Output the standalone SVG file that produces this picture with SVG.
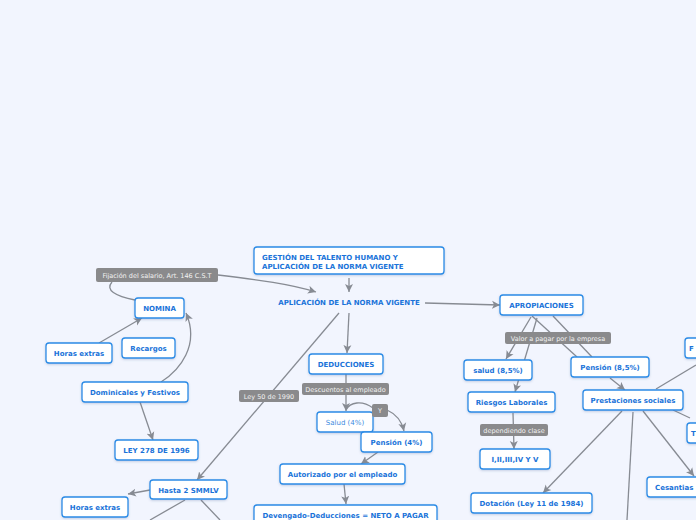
<svg xmlns="http://www.w3.org/2000/svg" width="696" height="520" viewBox="0 0 696 520">
<defs>
<marker id="ah" markerUnits="userSpaceOnUse" markerWidth="9" markerHeight="9" refX="8" refY="4.5" orient="auto">
<path d="M0,0.5 L8,4.5 L0,8.5 L2,4.5 z" fill="#878b93"/>
</marker>
<filter id="sh" x="-10%" y="-20%" width="120%" height="150%">
<feDropShadow dx="0" dy="1" stdDeviation="0.8" flood-color="#5070a0" flood-opacity="0.3"/>
</filter>
<style>
.n rect{fill:#fff;stroke:#2a8be6;stroke-width:1.3;filter:url(#sh)}
.t{font-family:"DejaVu Sans",Verdana,sans-serif;font-size:7px;font-weight:bold;fill:#1a73d9;text-anchor:middle}
.tl{font-family:"DejaVu Sans",Verdana,sans-serif;font-size:7px;font-weight:normal;fill:#3a8ae0;text-anchor:middle}
.lb rect{fill:#8a8a8c}
.lb text{font-family:"DejaVu Sans",Verdana,sans-serif;font-size:6.5px;fill:#f2f2f2;text-anchor:middle}
.c path{fill:none;stroke:#878b93;stroke-width:1.3}
.c .a{marker-end:url(#ah)}
</style>
</defs>
<rect width="696" height="520" fill="#f2f5fe"/>

<g class="c" id="connectors">
<path class="a" d="M349,278 L349,292"/>
<path class="a" d="M218,275 C260,280 290,284 316,292"/>
<path d="M112,282 C105,290 115,296 135,300"/>
<path class="a" d="M99,343 L142,318"/>
<path class="a" d="M161,382 C180,370 200,345 186,313"/>
<path class="a" d="M140,402 L153,440"/>
<path class="a" d="M339,313 L197,480"/>
<path class="a" d="M150,490 L128,494"/>
<path d="M185,500 L150,520"/>
<path d="M201,500 L220,520"/>
<path class="a" d="M349,313 L347,353"/>
<path class="a" d="M346,374 L346,411"/>
<path d="M346,410 C350,402 362,400 373,408"/>
<path class="a" d="M387,410 C396,414 402,422 404,431"/>
<path class="a" d="M378,452 L361,464"/>
<path class="a" d="M344,484 L346,504"/>
<path class="a" d="M425,303 L500,305"/>
<path class="a" d="M531,317 L506,359"/>
<path class="a" d="M537,318 L515,392"/>
<path d="M532,316 L577,357"/>
<path d="M553,316 L592,357"/>
<path class="a" d="M610,378 L625,390"/>
<path class="a" d="M513,413 L514,449"/>
<path class="a" d="M622,411 L543,493"/>
<path d="M633,412 L627,520"/>
<path class="a" d="M643,411 L694,476"/>
<path d="M673,410 L690,418"/>
<path d="M656,389 L696,365"/>
</g>

<g id="title" class="n"><rect x="254" y="247" width="190" height="27" rx="3"/>
<text class="t" style="text-anchor:start" x="262" y="260">GESTIÓN DEL TALENTO HUMANO Y</text>
<text class="t" style="text-anchor:start" x="262" y="269">APLICACIÓN DE LA NORMA VIGENTE</text></g>
<g id="main"><text class="t" x="349" y="305">APLICACIÓN DE LA NORMA VIGENTE</text></g>

<g id="lbl-fijacion" class="lb"><rect x="96" y="268" width="122" height="14" rx="2"/><text x="157" y="278">Fijación del salario, Art. 146 C.S.T</text></g>
<g id="nomina" class="n"><rect x="135" y="298" width="49" height="20" rx="3"/><text class="t" x="159.5" y="311">NOMINA</text></g>
<g id="horas1" class="n"><rect x="46" y="343" width="66" height="20" rx="3"/><text class="t" x="79" y="356">Horas extras</text></g>
<g id="recargos" class="n"><rect x="122" y="338" width="53" height="20" rx="3"/><text class="t" x="148.5" y="351">Recargos</text></g>
<g id="dominicales" class="n"><rect x="82" y="382" width="106" height="20" rx="3"/><text class="t" x="135" y="395">Dominicales y Festivos</text></g>
<g id="ley278" class="n"><rect x="115" y="440" width="83" height="20" rx="3"/><text class="t" x="156.5" y="453">LEY 278 DE 1996</text></g>
<g id="hasta2" class="n"><rect x="150" y="480" width="77" height="19" rx="3"/><text class="t" x="188.5" y="492.5">Hasta 2 SMMLV</text></g>
<g id="horas2" class="n"><rect x="62" y="497" width="66" height="20" rx="3"/><text class="t" x="95" y="510">Horas extras</text></g>
<g id="lbl-ley50" class="lb"><rect x="239" y="390" width="60" height="12" rx="2"/><text x="269" y="398.5">Ley 50 de 1990</text></g>

<g id="deducciones" class="n"><rect x="309" y="354" width="74" height="20" rx="3"/><text class="t" x="346" y="367">DEDUCCIONES</text></g>
<g id="lbl-descuentos" class="lb"><rect x="302" y="383" width="87" height="12" rx="2"/><text x="345.5" y="391.5">Descuentos al empleado</text></g>
<g id="salud4" class="n"><rect x="317" y="412" width="56" height="20" rx="3"/><text class="tl" x="345" y="425">Salud (4%)</text></g>
<g id="lbl-y" class="lb"><rect x="372" y="404" width="16" height="13" rx="2"/><text x="380" y="413">Y</text></g>
<g id="pension4" class="n"><rect x="361" y="432" width="71" height="20" rx="3"/><text class="t" x="396.5" y="445">Pensión (4%)</text></g>
<g id="autorizado" class="n"><rect x="280" y="464" width="125" height="20" rx="3"/><text class="t" x="342.5" y="477">Autorizado por el empleado</text></g>
<g id="devengado" class="n"><rect x="254" y="505" width="183" height="20" rx="3"/><text class="t" x="345.5" y="518">Devengado-Deducciones = NETO A PAGAR</text></g>

<g id="apropiaciones" class="n"><rect x="500" y="295" width="83" height="20" rx="3"/><text class="t" x="541.5" y="308">APROPIACIONES</text></g>
<g id="lbl-valor" class="lb"><rect x="505" y="332" width="106" height="12" rx="2"/><text x="558" y="340.5">Valor a pagar por la empresa</text></g>
<g id="salud85" class="n"><rect x="464" y="360" width="68" height="20" rx="3"/><text class="t" x="498" y="373">salud (8,5%)</text></g>
<g id="pension85" class="n"><rect x="571" y="357" width="78" height="20" rx="3"/><text class="t" x="610" y="370">Pensión (8,5%)</text></g>
<g id="riesgos" class="n"><rect x="468" y="392" width="87" height="20" rx="3"/><text class="t" x="511.5" y="405">Riesgos Laborales</text></g>
<g id="lbl-dependiendo" class="lb"><rect x="480" y="424" width="68" height="12" rx="2"/><text x="514" y="432.5">dependiendo clase</text></g>
<g id="clases" class="n"><rect x="480" y="449" width="70" height="20" rx="3"/><text class="t" x="515" y="462">I,II,III,IV Y V</text></g>
<g id="prestaciones" class="n"><rect x="583" y="390" width="100" height="20" rx="3"/><text class="t" x="633" y="403">Prestaciones sociales</text></g>
<g id="dotacion" class="n"><rect x="471" y="493" width="121" height="20" rx="3"/><text class="t" x="531.5" y="506">Dotación (Ley 11 de 1984)</text></g>
<g id="cesantias" class="n"><rect x="647" y="477" width="70" height="20" rx="3"/><text class="t" style="text-anchor:start" x="655" y="490">Cesantias</text></g>
<g id="nodeF" class="n"><rect x="685" y="338" width="40" height="20" rx="3"/><text class="t" style="text-anchor:start" x="689" y="351">F</text></g>
<g id="nodeT" class="n"><rect x="687" y="423" width="40" height="20" rx="3"/><text class="t" style="text-anchor:start" x="691" y="436">T</text></g>
</svg>
